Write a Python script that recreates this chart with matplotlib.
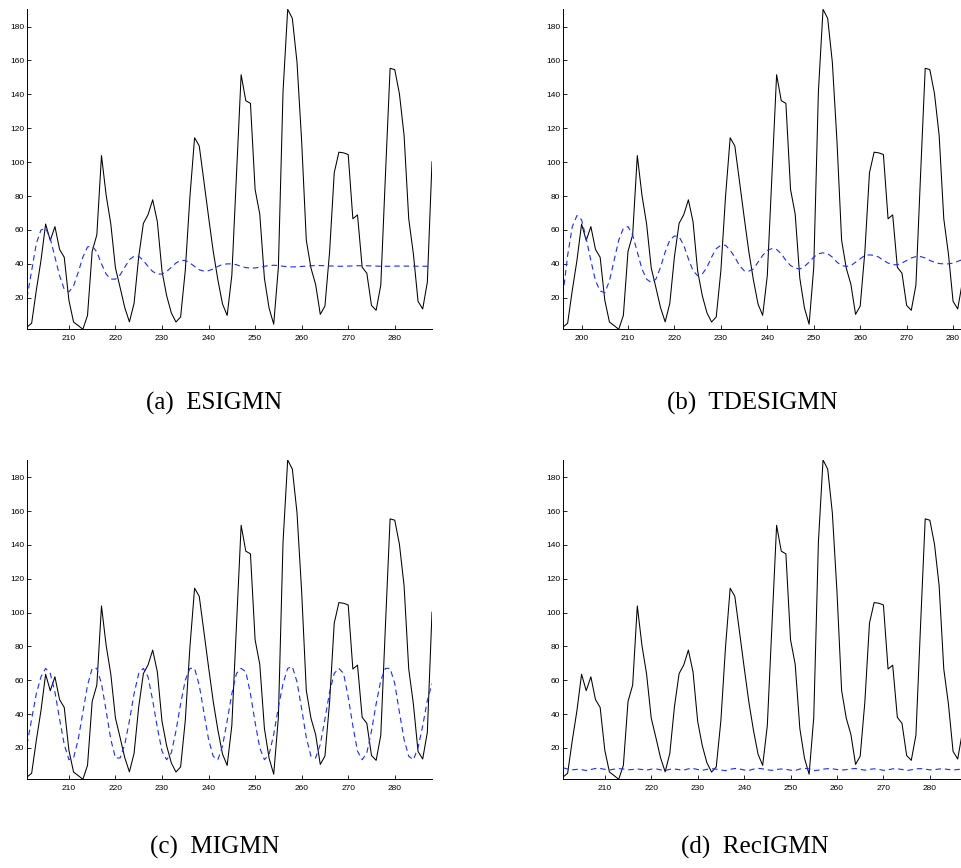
import numpy as np
import matplotlib
matplotlib.use("Agg")
import matplotlib.pyplot as plt

# yearly sunspot numbers, 1901-1988
sunspots = [2.7, 5.0, 24.4, 42.0, 63.5, 53.8, 62.0, 48.5, 43.9, 18.6,
            5.7, 3.6, 1.4, 9.6, 47.4, 57.1, 103.9, 80.6, 63.6, 37.6,
            26.1, 14.2, 5.8, 16.7, 44.3, 63.9, 69.0, 77.8, 64.9, 35.7,
            21.2, 11.1, 5.7, 8.7, 36.1, 79.7, 114.4, 109.6, 88.8, 67.8,
            47.5, 30.6, 16.3, 9.6, 33.2, 92.6, 151.6, 136.3, 134.7, 83.9,
            69.4, 31.5, 13.9, 4.4, 38.0, 141.7, 190.2, 184.8, 159.0, 112.3,
            53.9, 37.5, 27.9, 10.2, 15.1, 47.0, 93.8, 105.9, 105.5, 104.5,
            66.6, 68.9, 38.0, 34.5, 15.5, 12.6, 27.5, 92.5, 155.4, 154.6,
            140.4, 115.9, 66.6, 45.9, 17.9, 13.4, 29.2, 100.2]

# model predictions over the same stretch
pred_esigmn = [20, 36, 52, 60, 61, 55, 44, 33, 25, 23.5,
               27, 35, 44, 50, 50.5, 47, 40, 34, 31, 31,
               33.5, 38, 42.5, 44.5, 44.5, 42, 38.5, 35.5, 34, 34,
               35.5, 38, 40.5, 42, 42, 40.5, 38.5, 36.5, 35.7, 36,
               37, 38.5, 39.7, 40, 40, 39.5, 38.5, 37.8, 37.5, 37.6,
               38, 38.6, 39, 39.2, 39, 38.6, 38.3, 38.2, 38.3, 38.5,
               38.7, 38.9, 39, 39, 38.9, 38.8, 38.7, 38.6, 38.6, 38.7,
               38.8, 38.9, 38.9, 38.9, 38.8, 38.7, 38.6, 38.6, 38.6, 38.7,
               38.7, 38.7, 38.7, 38.7, 38.6, 38.6, 38.6, 38.6]

pred_tdesigmn = [22, 45, 62, 68.5, 66, 55, 42, 30, 24, 23,
                 30, 42, 54, 61, 62, 57, 47, 37, 31, 29,
                 31, 38, 47, 54, 56.5, 56, 51, 43, 36, 33,
                 34, 38, 44, 49, 51, 51, 48, 44, 39, 36,
                 35.7, 37, 41, 45, 48, 49, 48.5, 46, 42, 39,
                 37.5, 37, 38.5, 41, 44, 46, 46.5, 46, 44, 41,
                 39, 38.5, 39, 41, 43, 45, 45.3, 45, 44, 42,
                 40.5, 39.5, 39.5, 40.5, 42, 43.5, 44.3, 44.3, 43.5, 42,
                 41, 40.2, 40, 40, 40.5, 41.5, 42.5, 43]

pred_migmn = [22, 37, 52, 62, 67, 64, 53, 37, 22, 13,
              14, 25, 41, 57, 67, 67, 58, 42, 25, 14,
              14, 22, 36, 52, 64, 67, 62, 48, 32, 18,
              13, 17, 30, 46, 60, 67, 67, 57, 41, 25,
              15, 13, 21, 36, 52, 64, 67, 65, 52, 35,
              20, 13, 16, 28, 44, 58, 67, 68, 59, 43,
              26, 15, 14, 22, 37, 53, 64, 67, 64, 50,
              33, 18, 13, 17, 30, 46, 60, 67, 67, 58,
              41, 25, 15, 13, 20, 33, 48, 58]

pred_recigmn = [8.2, 7.5, 7.0, 7.3, 7.1, 6.6, 7.2, 7.8, 7.8, 7.3,
                6.9, 7.4, 7.7, 7.5, 7.0, 7.2, 7.5, 7.2, 6.8, 7.4,
                7.6, 7.0, 6.6, 7.3, 7.5, 7.1, 6.8, 7.6, 7.8, 7.2,
                6.7, 7.3, 7.7, 7.4, 6.9, 6.5, 7.3, 7.8, 7.5, 6.9,
                6.6, 7.4, 7.9, 7.6, 7.0, 6.7, 7.2, 7.5, 7.3, 6.8,
                6.6, 7.5, 7.9, 7.6, 6.5, 6.8, 7.4, 7.7, 7.6, 7.2,
                6.9, 7.1, 7.6, 7.8, 7.3, 6.8, 7.3, 7.6, 7.3, 6.7,
                7.0, 7.6, 7.6, 7.2, 6.6, 7.0, 7.6, 7.7, 7.4, 7.0,
                7.1, 7.5, 7.6, 7.2, 6.9, 7.2, 7.4, 7.3]

captions = ["(a)  ESIGMN", "(b)  TDESIGMN", "(c)  MIGMN", "(d)  RecIGMN"]
x_start = [201, 196, 201, 201]
predictions = [pred_esigmn, pred_tdesigmn, pred_migmn, pred_recigmn]

W, H = 961, 868
fig = plt.figure(figsize=(W / 100, H / 100), dpi=100)

# axes boxes in pixels: left, top, width, height
boxes = [(27, 9.3, 405, 320), (563, 9.3, 404, 320),
         (27, 460, 405, 319.3), (563, 460, 404, 319.3)]
caption_xy = [(214, 403), (752, 403), (215, 847), (755, 847)]


def draw_panel(ax, x0, pred):
    x = np.arange(x0, x0 + len(sunspots))
    ax.plot(x, sunspots, color="k", lw=0.75)
    ax.plot(x, pred, color="#1a2cff", lw=0.8, dashes=(5, 3.5))
    # ticks first: set_xticks would widen the limits otherwise
    ax.set_xticks(np.arange(200, 290, 10))
    ax.set_yticks(np.arange(20, 181, 20))
    ax.set_xlim(x[0], x[-1])
    ax.set_ylim(min(sunspots), max(sunspots))
    for s in ["top", "right"]:
        ax.spines[s].set_visible(False)
    for s in ["left", "bottom"]:
        ax.spines[s].set_linewidth(0.7)
    ax.tick_params(direction="in", length=3, width=0.6, labelsize=6)
    ax.tick_params(axis="x", pad=4)
    ax.tick_params(axis="y", pad=2)
    for lab in ax.get_xticklabels() + ax.get_yticklabels():
        lab.set_family("Liberation Sans")


for (l, t, w, h), x0, pred in zip(boxes, x_start, predictions):
    ax = fig.add_axes([l / W, 1 - (t + h) / H, w / W, h / H])
    draw_panel(ax, x0, pred)

for (cx, cy), cap in zip(caption_xy, captions):
    fig.text(cx / W, 1 - cy / H, cap, ha="center", va="center",
             family="Liberation Serif", fontsize=18)

fig.savefig("out.png", dpi=100)
